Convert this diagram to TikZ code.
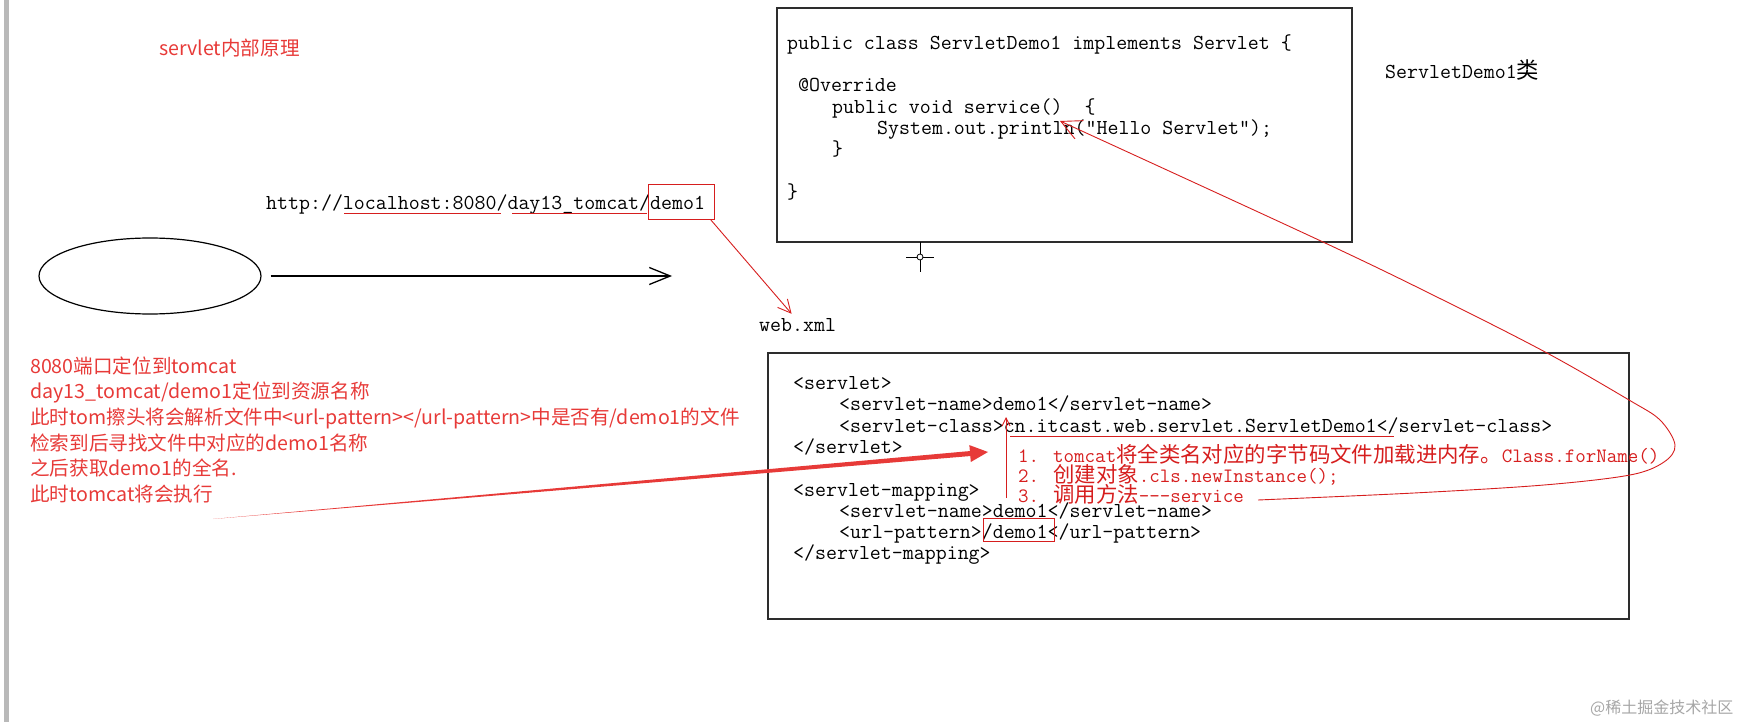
\documentclass[tikz,border=0pt]{standalone}
\usepackage{fontspec}
\usepackage{tikz}
\usetikzlibrary{arrows.meta,calc,shapes.geometric,positioning}
\newfontfamily\cjkfont{Noto Sans CJK SC}
\newfontfamily\cjkmono[Scale=1.05]{Noto Sans CJK SC}
\definecolor{notered}{RGB}{231,58,56}
\definecolor{inkred}{RGB}{214,30,30}
\definecolor{framegray}{RGB}{45,45,45}
\newcommand{\zh}[1]{{\cjkmono #1}}
\newcommand{\codefont}{\ttfamily\fontsize{21.3}{25}\selectfont}
\newcommand{\redfont}{\ttfamily\fontsize{20.4}{24}\selectfont}
\newcommand{\notefont}{\cjkfont\fontsize{19.6}{24}\selectfont}

\begin{document}
\begin{tikzpicture}[x=1pt,y=-1pt,
    code/.style={anchor=base west,inner sep=0pt,font=\codefont},
    redcode/.style={anchor=base west,inner sep=0pt,font=\redfont,text=inkred},
    note/.style={anchor=base west,inner sep=0pt,font=\notefont,text=notered},
    frame/.style={draw=framegray,line width=1.5pt,inner sep=0pt},
    redline/.style={draw=inkred,line width=0.9pt},
    barb/.style={-{Straight Barb[length=#1,width=#1]}}]
  \useasboundingbox (0,0) rectangle (1755,722);
  \fill[gray!55] (4,0) rectangle (9,722);

  \draw (159,55.5) node[note] (title) {servlet内部原理};

  \node[draw=black,line width=1.2pt,ellipse,minimum width=222pt,minimum height=76pt,inner sep=0pt] (browser) at (150,276) {};
  \coordinate (req) at (672,276);
  \draw[line width=1.3pt,-{Straight Barb[length=21pt,width=17pt]},shorten <=9pt] (browser) -- (req);

  \draw (266,209.5) node[code] (url) {http://localhost:8080/day13\_tomcat/demo1};
  \draw[redline] (344,213) -- (501,213);
  \draw[redline] (512,213) -- (647,213);
  \node[redline,minimum width=66pt,minimum height=35pt,inner sep=0pt] (uri) at (681,201.5) {};

  \draw (759,331) node[code] (webxml) {web.xml};
  \draw[redline,barb=13pt] ([xshift=-4pt]uri.south east) -- ([xshift=-6pt,yshift=4pt]webxml.north);

  \node[frame,minimum width=575pt,minimum height=234pt] (classbox) at (1064.5,125) {};
  \draw (787,49.5) node[code] (cls) {public class ServletDemo1 implements Servlet \{};
  \draw (798,92) node[code] (ovr) {@Override};
  \draw (832,113.5) node[code] (svc) {public void service()~~\{};
  \draw (877,134.5) node[code] (prn) {System.out.println("Hello Servlet");};
  \draw (832,156) node[code] (close1) {\}};
  \draw (787,198.5) node[code] (close2) {\}};
  \draw (1385,78.5) node[code] (clsname) {ServletDemo1\zh{类}};

  \draw[line width=0.8pt] (920,242) -- (920,272) (906,257) -- (934,257);
  \draw[line width=0.8pt,fill=white] (920,257) circle[radius=3];

  \node[frame,minimum width=861pt,minimum height=266pt] (xmlbox) at (1198.5,486) {};
  \draw (793,389.5) node[code] (x1) {<servlet>};
  \draw (839,410.8) node[code] (x2) {<servlet-name>demo1</servlet-name>};
  \draw (839,432.1) node[code] (x3) {<servlet-class>cn.itcast.web.servlet.ServletDemo1</servlet-class>};
  \draw (793,453.4) node[code] (x4) {</servlet>};
  \draw (793,496) node[code] (x5) {<servlet-mapping>};
  \draw (839,517.3) node[code] (x6) {<servlet-name>demo1</servlet-name>};
  \draw (839,538.6) node[code] (x7) {<url-pattern>/demo1</url-pattern>};
  \draw (793,559.9) node[code] (x8) {</servlet-mapping>};

  \draw (1018,462) node[redcode] (r1) {1. tomcat\zh{将全类名对应的字节码文件加载进内存。}Class.forName()};
  \draw (1018,482.5) node[redcode] (r2) {2. \zh{创建对象}.cls.newInstance();};
  \draw (1018,502.5) node[redcode] (r3) {3. \zh{调用方法}-\kern0pt-\kern0pt-service};

  \draw[redline] (1010,436) -- (1394,436);
  \coordinate (load) at (1006,417);
  \draw[redline,barb=8pt] (1006,498) -- (load);
  \node[redline,minimum width=71pt,minimum height=23pt,inner sep=0pt] (pattern) at (1018.5,529.5) {};

  \coordinate (svcend) at (1258,500);
  \coordinate (println) at (1060,121);
  \draw[redline,barb=20pt] plot[smooth,tension=0.55] coordinates {(svcend) (1414,493) (1544,485) (1630,475) (1664,462) (1675,445) (1660,420) (1629,400) (1547,353) (1443,300) (1323,242) (println)};

  \draw (30,373) node[note] (n1) {8080端口定位到tomcat};
  \draw (30,398.7) node[note] (n2) {day13\_tomcat/demo1定位到资源名称};
  \draw (30,424.4) node[note] (n3) {此时tom擦头将会解析文件中<url-pattern></url-pattern>中是否有/demo1的文件};
  \draw (30,450.1) node[note] (n4) {检索到后寻找文件中对应的demo1名称};
  \draw (30,475.8) node[note] (n5) {之后获取demo1的全名.};
  \draw (30,501.5) node[note] (n6) {此时tomcat将会执行};

  \coordinate (tail) at (213,519);
  \coordinate (tip) at (988,452);
  \coordinate (hb) at ($(tip)!18pt!(tail)$);
  \fill[notered] (tail) -- ($(hb)!2.5pt!90:(tip)$) -- ($(hb)!8.5pt!90:(tip)$) -- (tip) -- ($(hb)!8.5pt!-90:(tip)$) -- ($(hb)!2.5pt!-90:(tip)$) -- cycle;

  \draw (1590,713) node[anchor=base west,inner sep=0pt,font=\cjkfont\fontsize{16}{16}\selectfont,text=gray!70] (mark) {@稀土掘金技术社区};
\end{tikzpicture}
\end{document}
